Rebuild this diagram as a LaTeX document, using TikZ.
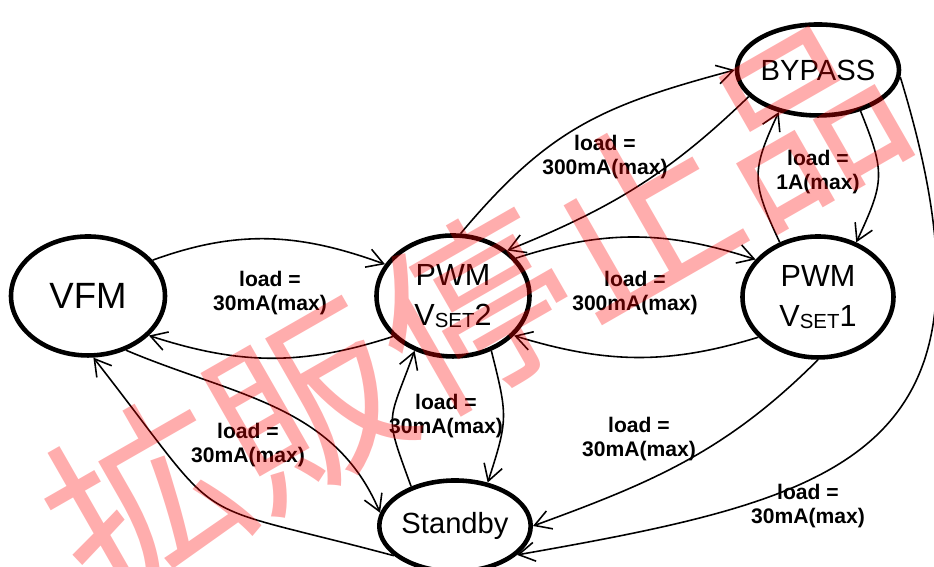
\documentclass[tikz,border=0pt]{standalone}
\usepackage{fontspec}
\setmainfont{Liberation Sans}
\newfontfamily\stampfont{Noto Sans CJK JP}
\usetikzlibrary{shapes.geometric,arrows.meta}

\newcommand\vset{V\raisebox{-0.5pt}{\fontsize{5.8}{6}\selectfont SET}}

\begin{document}
\begin{tikzpicture}[>={Straight Barb[length=4.6pt,width=5.4pt]}]

\tikzset{statenode/.style={ellipse,draw,line width=1.3pt,inner sep=0pt,minimum width=1.53cm,minimum height=1.21cm,align=center,font=\fontsize{8.7}{11.4}\selectfont},}
\tikzset{loadlabel/.style={inner sep=0pt,align=center,font=\bfseries\fontsize{6}{6.9}\selectfont},}
\tikzset{trans/.style={->,line width=0.45pt},}

\useasboundingbox (0,0) rectangle (9.34,5.67);

%STATI
\draw (0.88,2.71) node [statenode,minimum width=1.54cm,minimum height=1.19cm,font=\fontsize{10.4}{12}\selectfont] (vfm) {VFM};
\draw (4.53,2.71) node [statenode] (pwm2) {PWM\\\vset2};
\draw (8.18,2.70) node [statenode,minimum width=1.51cm] (pwm1) {PWM\\\vset1};
\draw (8.18,4.97) node [statenode,minimum height=0.91cm,font=\fontsize{8.3}{10}\selectfont] (bypass) {BYPASS};
\draw (4.55,0.41) node [statenode,minimum width=1.51cm,minimum height=0.91cm,font=\fontsize{8.3}{10}\selectfont] (standby) {Standby};

%TRANSIZIONI
\draw[trans] (vfm.29) to[out=20,in=160] (pwm2.155);
\draw[trans] (pwm2.214) to[out=198,in=-18] (vfm.-33);
\draw[trans] (vfm.-55) to[out=-23,in=113] (standby.170);
\draw[trans] (standby.206) to[out=165,in=-52,looseness=1.6] (vfm.-85);
\draw[trans] (pwm2.-55) to[out=-76,in=72,looseness=1.3] (standby.53);
\draw[trans] (standby.138) to[out=110,in=-110,looseness=1.5] (pwm2.-125);
\draw[trans] (pwm2.31) to[out=18,in=162] (pwm1.149);
\draw[trans] (pwm1.214) to[out=197,in=-17] (pwm2.-33);
\draw[trans] (pwm2.83) to[out=50,in=195,looseness=1.1] (bypass.west);
\draw[trans] (bypass.201) to[out=224,in=22] (pwm2.40);
\draw[trans] (pwm1.125) to[out=115,in=-115,looseness=1.3] (bypass.-133);
\draw[trans] (bypass.-44) to[out=-68,in=65,looseness=1.3] (pwm1.55);
\draw[trans] (pwm1.-90) to[out=225,in=20] (standby.east);
\draw[trans] (bypass.-5) to[out=-73,in=10,out looseness=1.65,in looseness=1.4] (standby.-25);

%ETICHETTE
\draw (2.70,2.74) node [loadlabel] (l1) {load =\\30mA(max)};
\draw (6.35,2.74) node [loadlabel] (l2) {load =\\300mA(max)};
\draw (6.05,4.10) node [loadlabel] (l3) {load =\\300mA(max)};
\draw (8.18,3.95) node [loadlabel] (l4) {load =\\1A(max)};
\draw (4.46,1.51) node [loadlabel] (l5) {load =\\30mA(max)};
\draw (6.39,1.28) node [loadlabel] (l6) {load =\\30mA(max)};
\draw (8.08,0.61) node [loadlabel] (l7) {load =\\30mA(max)};
\draw (2.48,1.22) node [loadlabel] (l8) {load =\\30mA(max)};

%TIMBRO
\draw (4.74,2.57) node [rotate=29.8,inner sep=0pt,text=red,opacity=0.32,font=\stampfont\fontsize{54}{54}\selectfont] (stamp) {拡販停止品};

\end{tikzpicture}
\end{document}
